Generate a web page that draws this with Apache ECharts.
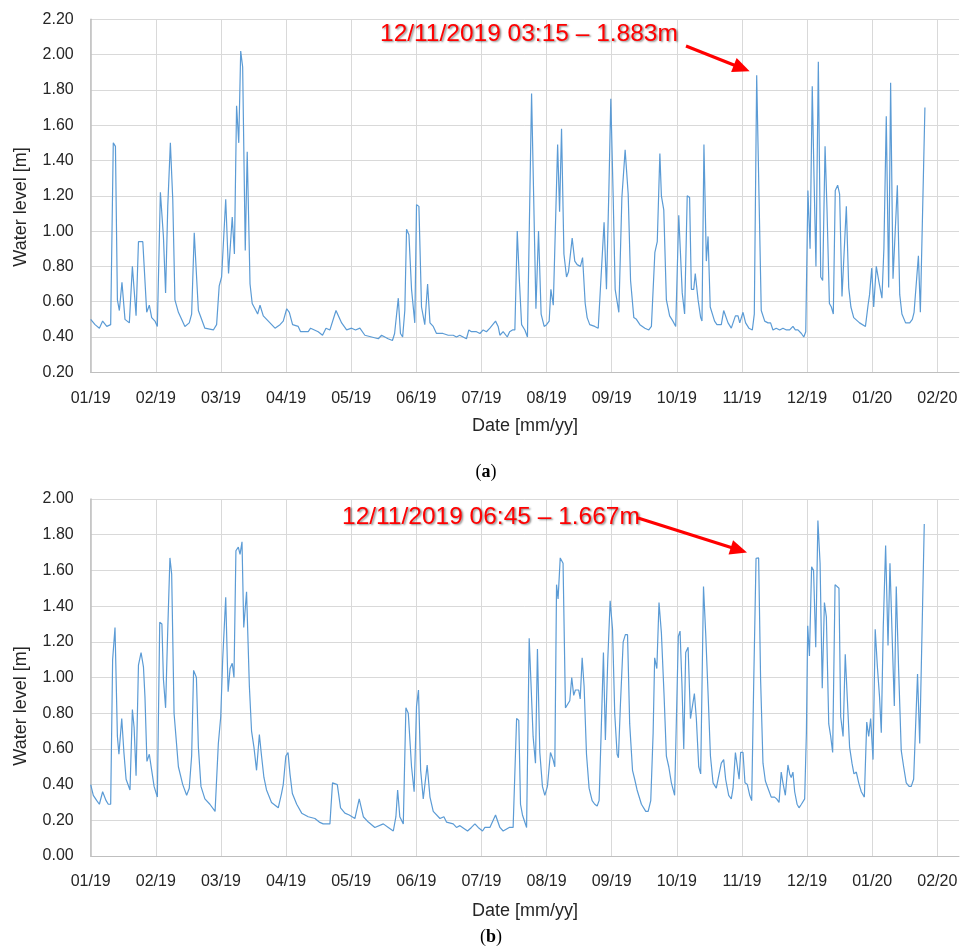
<!DOCTYPE html>
<html><head><meta charset="utf-8">
<script src="https://cdn.jsdelivr.net/npm/echarts@6/dist/echarts.min.js"></script>
<style>html,body{margin:0;padding:0;background:#fff}#c{width:962px;height:952px}</style>
</head><body><div id="c"></div>
<script>
// tick labels (one every 30 samples on the x axis)
const monthLabels = ['01/19','02/19','03/19','04/19','05/19','06/19','07/19','08/19','09/19','10/19','11/19','12/19','01/20','02/20'];

// (a) [sample index (day), water level m]
const topPoints = [[0,0.50],[2,0.47],[4,0.45],[5.5,0.49],[7.4,0.46],[9.2,0.47],[9.8,0.48],[10.4,1.50],[11.4,1.48],[12.3,0.61],[13.2,0.55],[14.4,0.71],[15.8,0.50],[17.8,0.48],[19.2,0.80],[20.9,0.52],[22,0.94],[24,0.94],[25.8,0.54],[27,0.58],[28.1,0.51],[29.6,0.49],[30.7,0.46],[32.1,1.22],[33.5,0.97],[34.5,0.65],[35.5,1.14],[36.7,1.50],[37.8,1.18],[38.8,0.61],[40.4,0.54],[43.4,0.46],[45.4,0.48],[46.5,0.53],[47.7,0.99],[49.6,0.55],[52.6,0.45],[56.5,0.44],[58,0.47],[59.2,0.69],[60.3,0.74],[62.2,1.18],[63.5,0.76],[65.2,1.08],[66.2,0.87],[67.2,1.71],[68.2,1.50],[69.1,2.02],[70,1.93],[71.2,0.89],[72.1,1.45],[73.4,0.70],[74.4,0.59],[76.1,0.55],[76.9,0.53],[78,0.58],[79.5,0.52],[82.6,0.48],[84.9,0.45],[87.2,0.47],[88.7,0.49],[90.3,0.56],[91.5,0.54],[93,0.47],[95.6,0.46],[96.7,0.43],[100.2,0.43],[101.3,0.45],[104.8,0.43],[106.8,0.41],[108.4,0.45],[110.2,0.44],[113,0.55],[115.6,0.48],[117.9,0.44],[120.2,0.45],[122,0.44],[124,0.45],[126.3,0.41],[132.5,0.39],[134,0.41],[135.5,0.40],[137,0.39],[139,0.38],[140,0.42],[141.7,0.62],[142.7,0.42],[143.7,0.40],[144.7,0.55],[145.5,1.01],[146.6,0.98],[147.8,0.67],[149.3,0.48],[150.1,1.15],[151.2,1.14],[152.4,0.57],[153.9,0.47],[155.2,0.70],[156.3,0.48],[157.8,0.46],[159.3,0.42],[162.3,0.42],[164.7,0.41],[167,0.41],[168.5,0.40],[170,0.41],[173.1,0.39],[174.2,0.44],[175.4,0.43],[177.7,0.43],[179.3,0.42],[180.8,0.44],[182.3,0.43],[183.9,0.45],[186.5,0.49],[187.7,0.46],[188.5,0.41],[190,0.43],[191.9,0.40],[193,0.43],[194.3,0.44],[195.4,0.44],[196.5,1.00],[197.4,0.74],[198.5,0.47],[200,0.44],[201.2,0.40],[203.1,1.78],[205.1,0.56],[206.3,1.00],[207.5,0.53],[208.9,0.46],[210,0.47],[211.2,0.49],[212,0.67],[213.1,0.58],[214,0.58],[215.1,1.49],[216,1.11],[216.9,1.58],[218,0.87],[219.2,0.74],[220.1,0.77],[220.9,0.77],[221.8,0.96],[223,0.83],[224.1,0.81],[225,0.82],[225.6,0.80],[226.6,0.85],[227.8,0.59],[228.7,0.51],[229.9,0.47],[232.2,0.46],[233.8,0.45],[234.5,0.46],[236.5,1.05],[237.6,0.67],[238.7,1.23],[239.6,1.75],[240.7,1.19],[241.6,0.67],[242.2,0.67],[243.3,0.54],[244.7,1.19],[246.2,1.46],[247.6,1.21],[248.7,0.72],[250.2,0.51],[251.4,0.50],[253,0.47],[255.3,0.45],[257.1,0.44],[258.3,0.46],[259.1,0.45],[259.9,0.88],[261,0.94],[262.2,1.44],[262.9,1.20],[264,1.12],[265.2,0.61],[266.7,0.52],[268.2,0.49],[269.5,0.46],[270.9,1.09],[271.8,1.08],[272.5,0.65],[273.6,0.53],[274.8,1.20],[275.9,1.19],[276.7,0.67],[277.8,0.67],[278.5,0.76],[279.8,0.61],[281,0.51],[281.6,0.49],[282.5,1.49],[283.6,0.83],[284.4,0.97],[285.4,0.57],[287.4,0.49],[288.5,0.47],[290.5,0.47],[291.6,0.55],[292.5,0.54],[293.6,0.48],[295.1,0.45],[297,0.52],[298.2,0.52],[299,0.48],[300.5,0.54],[301.7,0.48],[303.2,0.45],[304.8,0.44],[305.7,0.53],[306.8,1.883],[307.9,1.18],[308.9,0.55],[310.5,0.49],[312,0.48],[313.2,0.48],[314.3,0.44],[315.8,0.45],[317.4,0.44],[318.9,0.45],[320.5,0.44],[322,0.44],[323.5,0.46],[324.6,0.44],[325.8,0.44],[327.4,0.42],[328.5,0.40],[329.4,0.43],[330.4,1.23],[331.4,0.90],[332.4,1.82],[333.2,1.31],[334.1,0.80],[335.2,1.96],[336.3,0.74],[337.2,0.72],[338.3,1.48],[339.2,1.12],[340.3,0.59],[341.2,0.57],[342.1,0.53],[343,1.23],[344.1,1.26],[345,1.21],[346.1,0.63],[347,0.62],[348.1,1.14],[349.2,0.68],[350.2,0.57],[351.5,0.51],[354.2,0.48],[356.9,0.46],[358.1,0.58],[358.8,0.64],[359.8,0.79],[360.7,0.57],[361.9,0.80],[363,0.72],[364.5,0.62],[365.4,0.90],[366.5,1.65],[367.6,0.68],[368.5,1.84],[369.6,0.73],[370.5,0.72],[371.6,1.26],[372.7,0.64],[373.7,0.53],[375.4,0.48],[377.3,0.48],[378.5,0.50],[379.3,0.54],[380.2,0.53],[381.3,0.86],[382.2,0.54],[384.3,1.70]];

// (b) [sample index (day), water level m]
const bottomPoints = [[0,0.40],[1.2,0.34],[2.8,0.31],[4,0.29],[5.5,0.36],[7.1,0.31],[8.1,0.29],[9.2,0.29],[10.1,1.10],[11.2,1.28],[12.3,0.67],[13,0.57],[14.3,0.77],[15.3,0.58],[16.3,0.43],[18.1,0.37],[19.2,0.82],[20,0.72],[20.9,0.45],[22,1.07],[23.2,1.14],[24.3,1.06],[25,0.89],[25.9,0.53],[27,0.57],[28.1,0.48],[29.2,0.39],[30.7,0.33],[31.8,1.31],[32.8,1.30],[33.5,0.99],[34.5,0.83],[35.5,1.27],[36.5,1.67],[37.3,1.58],[38.4,0.80],[40.4,0.50],[42.4,0.40],[44.2,0.34],[45.4,0.38],[46.5,0.56],[47.4,1.04],[48.7,1.00],[49.6,0.61],[50.8,0.39],[52.6,0.32],[54.9,0.29],[57.3,0.25],[58.8,0.63],[59.9,0.78],[60.8,1.10],[62.2,1.45],[63.3,0.92],[64.2,1.05],[65.2,1.08],[66,1.00],[66.9,1.71],[68,1.73],[68.8,1.69],[69.7,1.76],[70.5,1.28],[71.1,1.28],[71.8,1.48],[73.1,0.95],[74.1,0.70],[75.2,0.61],[76.4,0.48],[77.7,0.68],[78.7,0.56],[79.8,0.44],[81,0.37],[83.3,0.30],[86.4,0.27],[87.9,0.35],[88.7,0.40],[89.9,0.56],[90.9,0.58],[91.8,0.46],[92.9,0.35],[94.9,0.29],[97.2,0.24],[100.2,0.22],[103.3,0.21],[105.3,0.19],[107.1,0.18],[110.2,0.18],[111.4,0.41],[113.6,0.40],[115.1,0.27],[117.1,0.24],[119.1,0.23],[121.7,0.21],[123.7,0.32],[125.6,0.22],[127.9,0.19],[130.9,0.16],[134.8,0.18],[137.1,0.16],[139.4,0.14],[140.6,0.22],[141.4,0.37],[142.4,0.22],[144,0.18],[145.2,0.83],[146.3,0.80],[147.8,0.50],[149,0.36],[150.1,0.84],[151,0.93],[152,0.48],[153.2,0.32],[154,0.32],[155,0.51],[156.3,0.33],[157.8,0.25],[160.9,0.21],[162.7,0.22],[163.9,0.19],[167,0.18],[168.5,0.16],[170.1,0.17],[173.6,0.14],[175.4,0.16],[177,0.18],[178.5,0.16],[180.5,0.14],[181.6,0.16],[183.9,0.16],[186.5,0.23],[188.5,0.16],[190,0.14],[192.8,0.16],[194.6,0.16],[196.2,0.77],[197.2,0.76],[198,0.29],[198.9,0.23],[200.8,0.16],[202,1.22],[202.8,1.21],[203.8,0.67],[204.9,0.52],[205.8,1.16],[206.9,0.58],[208.1,0.39],[209.2,0.34],[210.4,0.39],[211.8,0.58],[213,0.54],[213.8,0.50],[214.6,1.52],[215.3,1.44],[216.3,1.67],[216.9,1.67],[217.6,1.64],[218.7,0.83],[219.6,0.83],[220.7,0.87],[221.6,1.00],[222.5,0.90],[223.3,0.93],[224.1,0.94],[224.8,0.93],[225.5,0.88],[226.4,1.11],[227.3,0.95],[228.4,0.57],[229.6,0.38],[231,0.31],[232.2,0.29],[233.3,0.28],[234.2,0.31],[235.1,0.67],[236.2,1.14],[237.1,0.65],[238.2,1.10],[239.3,1.43],[240.4,1.27],[241.4,0.80],[242.5,0.57],[243.1,0.55],[244,0.84],[245.3,1.20],[246.3,1.24],[247.3,1.24],[248.3,0.74],[249.6,0.48],[250.6,0.43],[251.7,0.37],[253.7,0.29],[255.7,0.25],[256.8,0.25],[258,0.31],[259.1,0.69],[259.8,1.11],[260.8,1.05],[261.8,1.42],[262.9,1.25],[264.1,0.91],[265.2,0.56],[266.3,0.50],[267.5,0.41],[269,0.34],[269.8,0.34],[270.7,1.23],[271.5,1.26],[272.4,0.95],[273.2,0.60],[274.1,1.14],[275.2,1.17],[276.3,0.77],[277.2,0.77],[278.1,0.91],[279,0.77],[280.1,0.50],[281,0.46],[282.3,1.51],[283.3,1.25],[284.4,0.91],[285.5,0.56],[286.7,0.41],[288.2,0.38],[289.5,0.46],[290.5,0.52],[291.6,0.54],[292.5,0.43],[293.9,0.34],[295.1,0.32],[295.9,0.38],[297,0.58],[297.8,0.58],[298.7,0.43],[299.4,0.58],[300.5,0.58],[301.4,0.41],[302.5,0.40],[303.6,0.34],[304.5,0.31],[305.4,0.95],[306.5,1.667],[307.7,1.67],[308.6,0.99],[309.7,0.52],[310.8,0.42],[312,0.38],[313.5,0.33],[315,0.33],[316,0.32],[317.1,0.30],[318.1,0.47],[318.9,0.41],[320,0.34],[321.2,0.51],[322,0.46],[322.7,0.44],[323.5,0.47],[324.3,0.36],[325.4,0.29],[326.3,0.27],[327.4,0.29],[328.2,0.29],[328.9,0.32],[329.7,0.69],[330.3,1.29],[331.1,1.12],[332.1,1.62],[333,1.60],[334,1.17],[335,1.88],[336,1.64],[337,0.94],[338,1.42],[338.9,1.34],[340,0.74],[340.9,0.67],[341.8,0.58],[342.9,1.52],[343.8,1.52],[344.7,1.50],[345.5,0.78],[346.6,0.67],[347.6,1.13],[348.6,0.87],[349.6,0.61],[350.7,0.52],[351.6,0.46],[352.7,0.47],[353.8,0.41],[355,0.36],[356.4,0.33],[357.5,0.75],[358.4,0.67],[359.3,0.77],[360.4,0.54],[361.4,1.27],[362.4,1.06],[363.4,0.89],[364.2,0.69],[365.1,1.28],[366.2,1.74],[367.3,1.18],[368.2,1.64],[369.3,1.19],[370.2,0.84],[371.1,1.51],[372.2,1.04],[373.4,0.59],[374.5,0.50],[375.7,0.41],[377,0.39],[378,0.39],[379.1,0.43],[380,0.43],[380.9,1.02],[381.9,0.63],[384,1.86]];

// annotated peaks
const topPeak = [306.8, 1.883];
const topNote = '12/11/2019 03:15 – 1.883m';
const botPeak = [306.5, 1.667];
const botNote = '12/11/2019 06:45 – 1.667m';

const FONT = '"Liberation Sans", Arial, sans-serif';

const chart = echarts.init(document.getElementById('c'), null, {renderer: 'canvas'});

function xAxisCfg(gridIndex) {
  return {
    type: 'value', gridIndex, min: 0, max: 400, interval: 30,
    axisLine: {show: true, lineStyle: {color: '#bfbfbf', width: 1}},
    axisTick: {show: false},
    axisLabel: {
      margin: 18, fontSize: 16, color: '#262626', fontFamily: FONT,
      formatter: v => (v % 30 === 0 && v / 30 < monthLabels.length) ? monthLabels[v / 30] : ''
    },
    splitLine: {show: true, showMaxLine: false, lineStyle: {color: '#d9d9d9', width: 1}}
  };
}
function yAxisCfg(gridIndex, min, max) {
  return {
    type: 'value', gridIndex, min, max, interval: 0.2,
    axisLine: {show: true, lineStyle: {color: '#bfbfbf', width: 1.5}},
    axisTick: {show: false},
    axisLabel: {margin: 17, fontSize: 16, color: '#262626', fontFamily: FONT, formatter: v => v.toFixed(2)},
    splitLine: {show: true, lineStyle: {color: '#d9d9d9', width: 1}}
  };
}
const lineStyle = {color: '#5b9bd5', width: 1.2};

chart.setOption({
  animation: false,
  backgroundColor: '#fff',
  grid: [
    {left: 90.7, width: 868.7, top: 19.3, height: 353},
    {left: 90.7, width: 868.7, top: 499, height: 357}
  ],
  xAxis: [xAxisCfg(0), xAxisCfg(1)],
  yAxis: [yAxisCfg(0, 0.2, 2.2), yAxisCfg(1, 0, 2)],
  series: [
    {type: 'line', xAxisIndex: 0, yAxisIndex: 0, data: topPoints, showSymbol: false, lineStyle, itemStyle: {color: '#5b9bd5'}},
    {type: 'line', xAxisIndex: 1, yAxisIndex: 1, data: bottomPoints, showSymbol: false, lineStyle, itemStyle: {color: '#5b9bd5'}}
  ]
});

function arrow(start, tip) {
  const dx = tip[0] - start[0], dy = tip[1] - start[1];
  const L = Math.hypot(dx, dy), ux = dx / L, uy = dy / L;
  const head = 17, half = 7.5;
  const bx = tip[0] - ux * head, by = tip[1] - uy * head;
  const nx = -uy, ny = ux;
  return [
    {type: 'line', shape: {x1: start[0], y1: start[1], x2: bx + ux * 2, y2: by + uy * 2}, style: {stroke: '#ff0000', lineWidth: 3.2}},
    {type: 'polygon', shape: {points: [tip, [bx + nx * half, by + ny * half], [bx - nx * half, by - ny * half]]}, style: {fill: '#ff0000'}}
  ];
}
function note(text, x, y) {
  return {type: 'text', x, y, style: {text, fill: '#ff0000', font: '24.5px ' + FONT, textAlign: 'left', textVerticalAlign: 'middle',
    textShadowColor: 'rgba(0,0,0,0.45)', textShadowBlur: 2, textShadowOffsetX: 1.5, textShadowOffsetY: 1.5}};
}
function yTitle(y) {
  return {type: 'text', x: 21.5, y, rotation: Math.PI / 2, style: {text: 'Water level [m]', fill: '#262626', font: '18px ' + FONT, textAlign: 'center', textVerticalAlign: 'middle'}};
}
function xTitle(y) {
  return {type: 'text', x: 525, y, style: {text: 'Date [mm/yy]', fill: '#262626', font: '18px ' + FONT, textAlign: 'center', textVerticalAlign: 'middle'}};
}
function panel(letter, x, y) {
  return {type: 'text', x, y, style: {
    text: '{p|(}{b|' + letter + '}{p|)}', textAlign: 'center', textVerticalAlign: 'middle',
    rich: {p: {font: '18px "Liberation Serif", "DejaVu Serif", serif', fill: '#000'}, b: {font: 'bold 18px "Liberation Serif", "DejaVu Serif", serif', fill: '#000'}}
  }};
}

const pTop = chart.convertToPixel({xAxisIndex: 0, yAxisIndex: 0}, topPeak);
const pBot = chart.convertToPixel({xAxisIndex: 1, yAxisIndex: 1}, botPeak);

chart.setOption({
  graphic: [
    yTitle(207), yTitle(706),
    xTitle(426), xTitle(911),
    panel('a', 486, 472), panel('b', 491, 937),
    note(topNote, 380, 34),
    note(botNote, 342, 517),
    ...arrow([686, 46], [pTop[0] - 7, pTop[1] - 4]),
    ...arrow([638, 518], [pBot[0] - 9, pBot[1] - 6])
  ]
});
</script>
</body></html>
